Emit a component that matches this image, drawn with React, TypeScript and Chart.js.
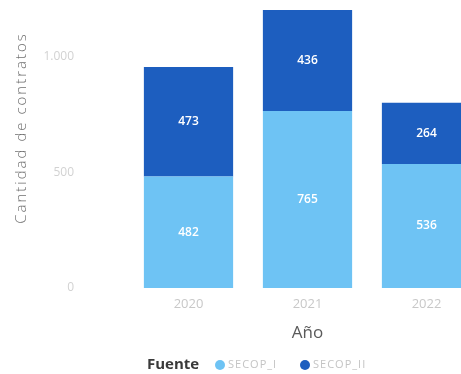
import React, { useEffect, useRef } from "react";
import { Chart, registerables } from "chart.js";

Chart.register(...registerables);

const years = ["2020", "2021", "2022"];
const secopI = [482, 765, 536];
const secopII = [473, 436, 264];
const seriesNames = ["SECOP_I", "SECOP_II"];
const colors = ["#6EC3F4", "#1D5EBF"];
const yTicks = [0, 500, 1000];
const yTitle = "Cantidad de contratos";
const xTitle = "Año";
const legendTitle = "Fuente";

const FONT = "'Open Sans', 'Noto Sans', sans-serif";

const barLabels = {
  id: "barLabels",
  afterDatasetsDraw(chart: any) {
    const ctx = chart.ctx;
    ctx.save();
    ctx.fillStyle = "#ffffff";
    ctx.font = `600 12px ${FONT}`;
    ctx.textAlign = "center";
    ctx.textBaseline = "middle";
    chart.data.datasets.forEach((ds: any, i: number) => {
      const meta = chart.getDatasetMeta(i);
      meta.data.forEach((bar: any, j: number) => {
        const p = bar.getProps(["x", "y", "base"], true);
        ctx.fillText(String(ds.data[j]), p.x, (p.y + p.base) / 2);
      });
    });
    ctx.restore();
  },
};

const extraText = {
  id: "extraText",
  afterDraw(chart: any) {
    const ctx = chart.ctx;
    ctx.save();
    ctx.translate(22, 128);
    ctx.rotate(-Math.PI / 2);
    ctx.font = `300 15px ${FONT}`;
    (ctx as any).letterSpacing = "2px";
    ctx.fillStyle = "#707070";
    ctx.textAlign = "center";
    ctx.textBaseline = "middle";
    ctx.fillText(yTitle, 0, 0);
    ctx.restore();

    ctx.save();
    const y = 365;
    ctx.textBaseline = "middle";
    ctx.textAlign = "left";
    ctx.font = `bold 15px ${FONT}`;
    ctx.fillStyle = "#3a3a3a";
    ctx.fillText(legendTitle, 147, y);
    let x = 215;
    chart.data.datasets.forEach((ds: any) => {
      ctx.beginPath();
      ctx.fillStyle = ds.backgroundColor;
      ctx.arc(x + 5, y, 5, 0, Math.PI * 2);
      ctx.fill();
      ctx.font = `11px ${FONT}`;
      (ctx as any).letterSpacing = "1px";
      ctx.fillStyle = "#c4c4c4";
      ctx.fillText(ds.label, x + 13, y);
      x += 85;
    });
    ctx.restore();
  },
};

export default function App() {
  const ref = useRef<HTMLCanvasElement>(null);
  useEffect(() => {
    const chart = new Chart(ref.current!, {
      type: "bar",
      data: {
        labels: years,
        datasets: [
          { label: seriesNames[0], data: secopI, backgroundColor: colors[0], barPercentage: 0.75, categoryPercentage: 1 },
          { label: seriesNames[1], data: secopII, backgroundColor: colors[1], barPercentage: 0.75, categoryPercentage: 1 },
        ],
      },
      options: {
        responsive: false,
        animation: false,
        layout: { padding: { top: 0, right: 0, bottom: 30, left: 0 } },
        plugins: { legend: { display: false }, tooltip: { enabled: false } },
        scales: {
          x: {
            stacked: true,
            grid: { display: false },
            border: { display: false },
            ticks: { color: "#c8c8c8", font: { family: FONT, size: 13 }, padding: 0 },
            title: { display: true, text: xTitle, color: "#5a5a5a", font: { family: FONT, size: 17 }, padding: { top: 0, bottom: 1 } },
            afterFit: (s: any) => { s.height = 56; },
          },
          y: {
            stacked: true,
            min: 0,
            max: 1244,
            grid: { display: false },
            border: { display: false },
            afterBuildTicks: (s: any) => { s.ticks = yTicks.map((v) => ({ value: v })); },
            ticks: {
              color: "#d2d2d2",
              font: { family: FONT, size: 12 },
              padding: 47,
              callback: (v: any) => Number(v).toLocaleString("es-ES", { useGrouping: "always" } as any),
            },
            title: { display: false },
            afterFit: (s: any) => { s.width = 129; s.paddingTop = 0; s.paddingBottom = 0; },
          },
        },
      },
      plugins: [barLabels, extraText],
    });
    return () => chart.destroy();
  }, []);
  return (
    <div style={{ position: "fixed", left: 0, top: 0, width: 461, height: 374, overflow: "hidden", background: "#fff" }}>
      <canvas ref={ref} width={486} height={374} style={{ display: "block" }} />
    </div>
  );
}
